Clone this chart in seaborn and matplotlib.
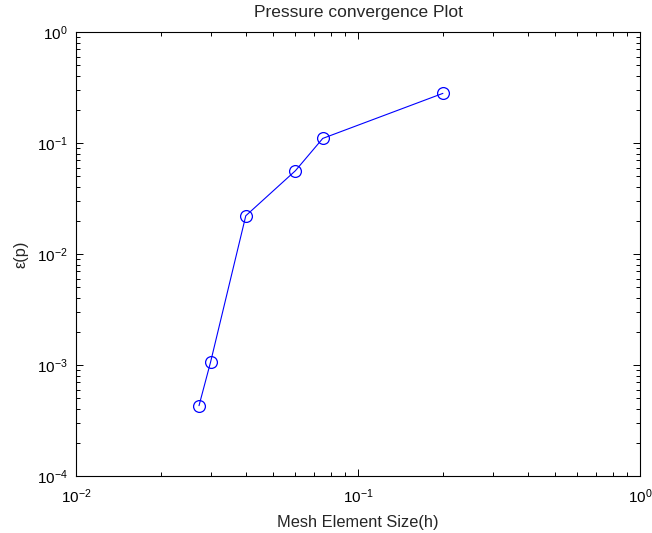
import matplotlib
matplotlib.use("Agg")
import matplotlib.pyplot as plt
import seaborn as sns
import pandas as pd
from matplotlib.ticker import LogLocator, NullFormatter, LogFormatterMathtext

mesh_size = [0.0273, 0.030, 0.040, 0.060, 0.075, 0.200]
pressure_error = [4.3e-4, 1.06e-3, 0.0221, 0.0563, 0.110, 0.280]
title = "Pressure convergence Plot"
xlabel = "Mesh Element Size(h)"
ylabel = "ε(p)"

sns.set_style("ticks")
plt.rcParams["font.family"] = ["Liberation Sans", "DejaVu Sans"]
plt.rcParams["mathtext.fontset"] = "custom"
plt.rcParams["mathtext.rm"] = "Liberation Sans"
plt.rcParams["mathtext.it"] = "Liberation Sans:italic"
plt.rcParams["mathtext.bf"] = "Liberation Sans:bold"

df = pd.DataFrame({"h": mesh_size, "err": pressure_error})

fig = plt.figure(figsize=(6.52, 5.33), dpi=100)
ax = fig.add_axes([76 / 652, 1 - 476 / 533, (640 - 76) / 652, (476 - 32) / 533])

sns.lineplot(data=df, x="h", y="err", ax=ax, sort=False, color=(0, 0, 1),
             linewidth=0.8, marker="o", markersize=8.5,
             markerfacecolor="none", markeredgecolor=(0, 0, 1), markeredgewidth=0.9)

ax.set_xscale("log")
ax.set_yscale("log")
ax.set_xlim(1e-2, 1e0)
ax.set_ylim(1e-4, 1e0)

for axis in (ax.xaxis, ax.yaxis):
    axis.set_major_locator(LogLocator(base=10, numticks=10))
    axis.set_minor_locator(LogLocator(base=10, subs=range(2, 10), numticks=20))
    axis.set_minor_formatter(NullFormatter())
    axis.set_major_formatter(LogFormatterMathtext())

ax.tick_params(which="both", direction="in", top=True, right=True,
               labelsize=11, colors="black", width=0.7)
ax.tick_params(which="major", length=5)
ax.tick_params(which="minor", length=3)
ax.tick_params(axis="x", which="major", pad=8.5)
ax.tick_params(axis="y", which="major", pad=6)

for s in ax.spines.values():
    s.set_visible(True)
    s.set_color("black")
    s.set_linewidth(0.8)

ax.set_title(title, fontsize=12.5, pad=11)
ax.set_xlabel(xlabel, fontsize=11.8, labelpad=6)
ax.set_ylabel(ylabel, fontsize=11.8, labelpad=6)

fig.savefig("out.png", dpi=100)
